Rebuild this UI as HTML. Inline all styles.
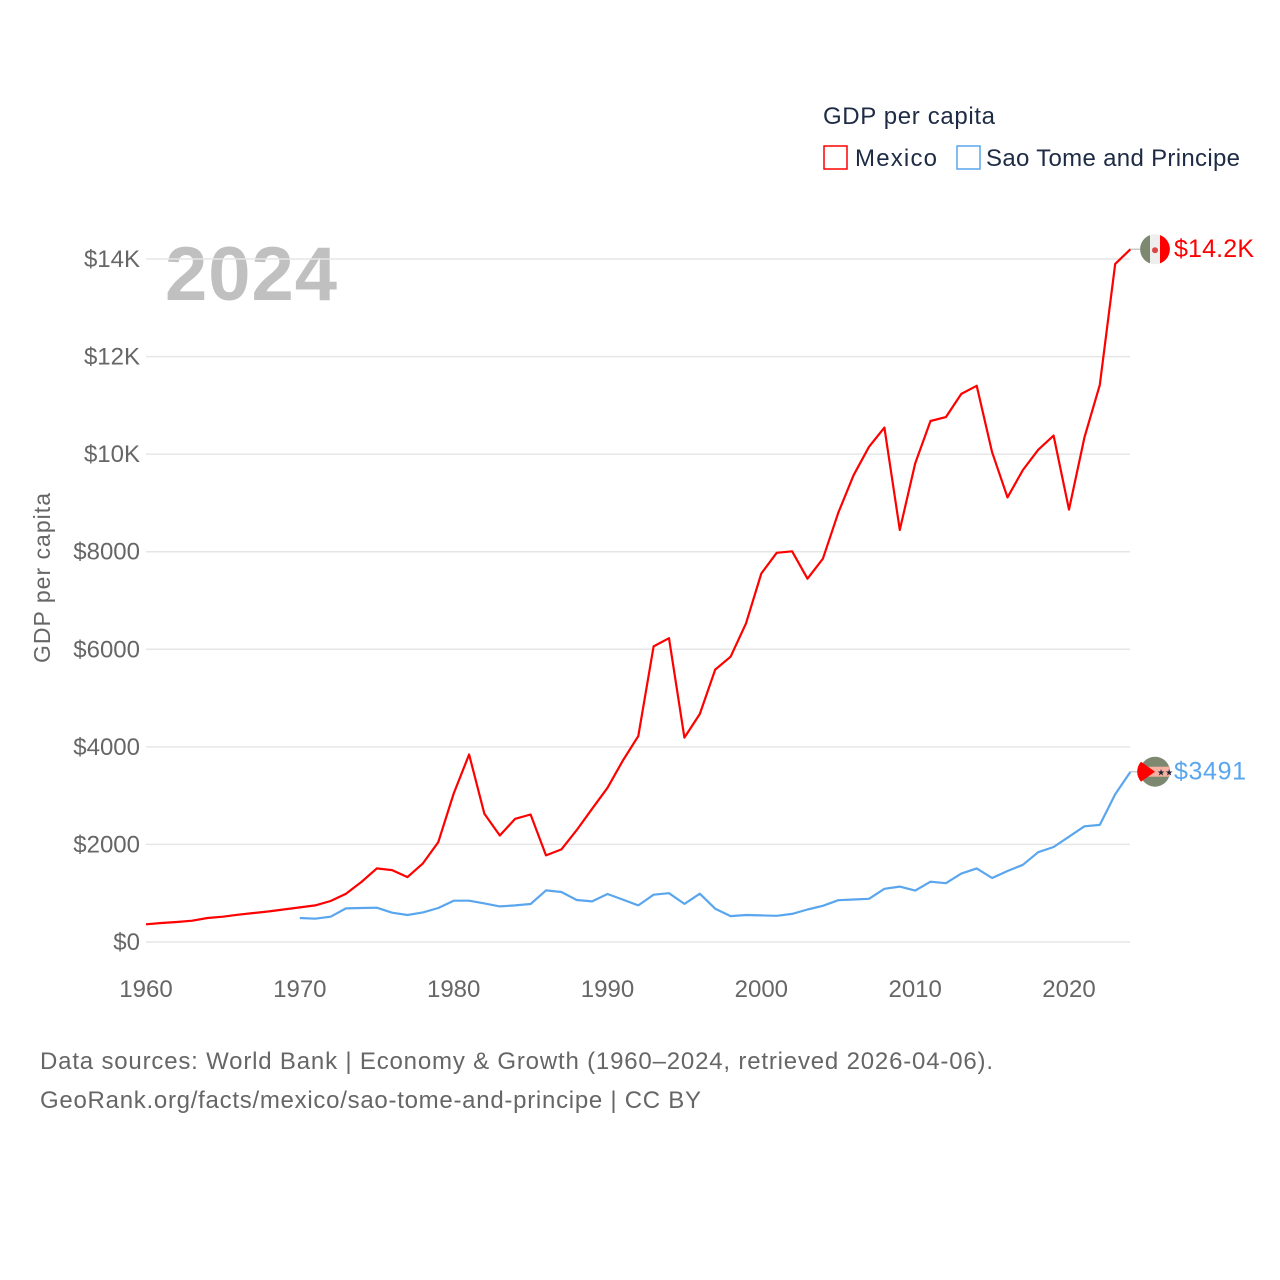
<!DOCTYPE html>
<html><head><meta charset="utf-8"><style>
html,body{margin:0;padding:0;background:#fff;}
svg{display:block;font-family:"Liberation Sans",sans-serif;}
</style></head><body>
<svg id="chart" width="1280" height="1280" viewBox="0 0 1280 1280">
<text x="823" y="124" font-size="24" fill="#1d2b45" textLength="172">GDP per capita</text>
<g><rect x="824" y="146" width="23" height="23" fill="none" stroke="#ff0000" stroke-width="1.5"/><text x="855" y="166" font-size="24" fill="#1d2b45" textLength="82">Mexico</text></g>
<g><rect x="957" y="146" width="23" height="23" fill="none" stroke="#5aa6ee" stroke-width="1.5"/><text x="986" y="166" font-size="24" fill="#1d2b45" textLength="254">Sao Tome and Principe</text></g>
<text x="165" y="300" font-size="76" font-weight="bold" fill="#c0c0c0" textLength="172">2024</text>
<text transform="translate(50,578) rotate(-90)" text-anchor="middle" font-size="23" fill="#666" textLength="170">GDP per capita</text>
<g id="grid"></g><g id="yt"></g><g id="xt"></g><g id="series"></g>
<text x="40" y="1069" font-size="24" fill="#666" textLength="953">Data sources: World Bank | Economy &amp; Growth (1960–2024, retrieved 2026-04-06).</text>
<text x="40" y="1108" font-size="24" fill="#666" textLength="661">GeoRank.org/facts/mexico/sao-tome-and-principe | CC BY</text>
</svg>
<script>
const yTicks=[0,2000,4000,6000,8000,10000,12000,14000];
const yTickLabels=["$0","$2000","$4000","$6000","$8000","$10K","$12K","$14K"];
const xTicks=[1960,1970,1980,1990,2000,2010,2020];
const mexYears=[1960,1961,1962,1963,1964,1965,1966,1967,1968,1969,1970,1971,1972,1973,1974,1975,1976,1977,1978,1979,1980,1981,1982,1983,1984,1985,1986,1987,1988,1989,1990,1991,1992,1993,1994,1995,1996,1997,1998,1999,2000,2001,2002,2003,2004,2005,2006,2007,2008,2009,2010,2011,2012,2013,2014,2015,2016,2017,2018,2019,2020,2021,2022,2023,2024];
const mexValues=[362,389,410,437,491,519,560,594,628,669,710,751,840,990,1229,1509,1474,1331,1611,2048,3044,3843,2628,2184,2526,2614,1775,1898,2294,2730,3160,3720,4220,6060,6227,4189,4674,5583,5848,6530,7553,7977,8008,7447,7856,8800,9568,10150,10545,8447,9810,10680,10760,11235,11400,10040,9114,9674,10090,10380,8864,10340,11420,13900,14200];
const stpYears=[1970,1971,1972,1973,1974,1975,1976,1977,1978,1979,1980,1981,1982,1983,1984,1985,1986,1987,1988,1989,1990,1991,1992,1993,1994,1995,1996,1997,1998,1999,2000,2001,2002,2003,2004,2005,2006,2007,2008,2009,2010,2011,2012,2013,2014,2015,2016,2017,2018,2019,2020,2021,2022,2023,2024];
const stpValues=[491,478,519,689,696,703,600,553,607,696,846,846,792,730,751,778,1058,1024,860,833,983,870,750,970,1000,780,990,682,530,553,545,538,576,667,742,856,871,886,1090,1136,1053,1235,1205,1402,1508,1311,1455,1583,1841,1947,2159,2371,2401,3030,3491];
const endLabels=["$14.2K","$3491"];
const NS="http://www.w3.org/2000/svg";
const X=y=>146+(y-1960)*(1069-146)/60;
const Y=v=>942-v*(942-259)/14000;
function mk(t,a,p){const e=document.createElementNS(NS,t);for(const k in a)e.setAttribute(k,a[k]);(p||document.getElementById('chart')).appendChild(e);return e;}
const grid=document.getElementById('grid'),yt=document.getElementById('yt'),xt=document.getElementById('xt'),ser=document.getElementById('series');
yTicks.forEach((v,i)=>{
 const l=mk('line',{x1:146,x2:1130,y1:Y(v),y2:Y(v),stroke:'#e6e6e6','stroke-width':1.5},grid);
 
 
 const t=mk('text',{x:140,y:Y(v)+8,'text-anchor':'end','font-size':24,fill:'#666'},yt);t.textContent=yTickLabels[i];
 
 
});
xTicks.forEach(y=>{
 const t=mk('text',{x:X(y),y:997,'text-anchor':'middle','font-size':24,fill:'#666'},xt);t.textContent=y;
 
 
});
function line(years,vals,color,name){
 const d=years.map((y,i)=>(i?'L':'M')+X(y).toFixed(1)+','+Y(vals[i]).toFixed(1)).join('');
 const p=mk('path',{d:d,fill:'none',stroke:color,'stroke-width':2.2,'stroke-linejoin':'round'},ser);
 
 
}
line(mexYears,mexValues,'#ff0000','mexico-line');
line(stpYears,stpValues,'#5aa6ee','sao-tome-line');
const mx=X(2024),my=Y(mexValues[mexValues.length-1]),sy=Y(stpValues[stpValues.length-1]);
mk('line',{x1:mx,x2:mx+10,y1:my,y2:my,stroke:'#ccc','stroke-width':1.5},ser);
mk('line',{x1:mx,x2:mx+10,y1:sy,y2:sy,stroke:'#ccc','stroke-width':1.5},ser);
const f1=mk('g',{},ser);


mk('circle',{cx:1155,cy:my,r:15,fill:'#eee'},f1);
mk('path',{d:`M1150,${my-14.1}A15,15 0 0,0 1150,${my+14.1}Z`,fill:'#7d8870'},f1);
mk('path',{d:`M1160,${my-14.1}A15,15 0 0,1 1160,${my+14.1}Z`,fill:'#ff0000'},f1);
mk('circle',{cx:1155,cy:my+1,r:3,fill:'#d44'},f1);
const f2=mk('g',{},ser);


mk('circle',{cx:1155,cy:sy,r:15,fill:'#7d8870'},f2);
mk('rect',{x:1140,y:sy-5,width:30,height:10,fill:'#f4b0a0'},f2);
mk('path',{d:`M1141,${sy-10}L1155,${sy}L1141,${sy+10}A15,15 0 0,1 1141,${sy-10}Z`,fill:'#ff0000'},f2);
mk('text',{x:1157,y:sy+4,'font-size':9,fill:'#223'},f2).textContent='★★';
const t1=mk('text',{x:1174,y:my+8,'font-size':25,fill:'#ff0000',textLength:80},ser);t1.textContent=endLabels[0];


const t2=mk('text',{x:1174,y:sy+8,'font-size':25,fill:'#5aa6ee',textLength:72},ser);t2.textContent=endLabels[1];


</script>
</body></html>
